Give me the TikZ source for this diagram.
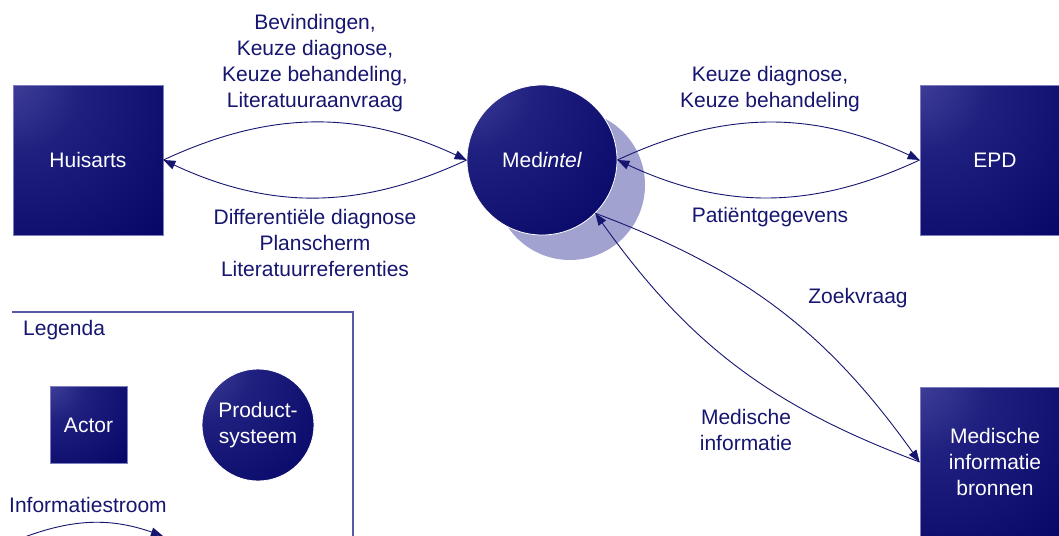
\documentclass[tikz,border=0pt]{standalone}
\usepackage{fontspec}
\setmainfont{Liberation Sans}
\usetikzlibrary{arrows.meta,calc}

\definecolor{ink}{RGB}{22,22,112}
\definecolor{navybase}{RGB}{4,4,102}
\definecolor{glowlight}{RGB}{74,74,162}
\definecolor{glowmid}{RGB}{32,32,128}
\definecolor{halo}{RGB}{162,162,208}
\definecolor{edge}{RGB}{125,125,192}
\definecolor{frame}{RGB}{88,88,168}

% soft highlight in the upper left corner of every actor and system
\pgfdeclareradialshading{glow}{\pgfpoint{-32bp}{32bp}}{%
  color(0bp)=(glowlight); color(22bp)=(glowmid);
  color(58bp)=(navybase); color(100bp)=(navybase)}

\newcommand{\txt}{\fontsize{21}{26}\selectfont}

\tikzset{
  actor/.style={rectangle, shading=glow, draw=edge, line width=0.8pt,
    minimum size=150pt, inner sep=0pt, text=white, align=center, font=\txt},
  system/.style={circle, shading=glow, draw=white, line width=0.8pt,
    minimum size=150pt, inner sep=0pt, text=white, align=center, font=\txt},
  lbl/.style={text=ink, align=center, font=\txt, inner sep=0pt},
  flow/.style={draw=ink, line width=0.9pt, -{Triangle[length=12pt,width=9pt]}}
}

\begin{document}
\begin{tikzpicture}[x=1pt,y=-1pt]
\clip (0,0) rectangle (1059,535);
\fill[white] (0,0) rectangle (1059,535);

% actors and the central system
\node[circle, fill=halo, minimum size=150pt, inner sep=0pt] (medshade) at (570,185) {};
\node[actor] (hu) at (88,160) {Huisarts};
\node[system] (med) at (542,160) {Med\textit{intel}};
\node[actor] (epd) at (995,160) {EPD};
\node[actor] (mib) at (995,462) {Medische\\informatie\\bronnen};

% information flows
\draw[flow] (hu.east) to[bend left=25] (med.west);
\draw[flow] (med.west) to[bend left=25] (hu.east);
\draw[flow] (med.east) to[bend left=25] (epd.west);
\draw[flow] (epd.west) to[bend left=25] (med.east);
\draw[flow] (med.-45) to[bend left=17] (mib.west);
\draw[flow] (mib.west) to[bend left=17] (med.-45);

% flow labels
\node[lbl] (l1) at (315,63) {Bevindingen,\\Keuze diagnose,\\Keuze behandeling,\\Literatuuraanvraag};
\node[lbl] (l2) at (315,243) {Differentiële diagnose\\Planscherm\\Literatuurreferenties};
\node[lbl] (l3) at (770,89) {Keuze diagnose,\\Keuze behandeling};
\node[lbl] (l4) at (770,217) {Patiëntgegevens};
\node[lbl] (l5) at (858,298) {Zoekvraag};
\node[lbl] (l6) at (746,430) {Medische\\informatie};

% legend
\draw[frame, line width=1.2pt] (12,312) -- (353,312) -- (353,545);
\node[lbl, anchor=west] (leg) at (23,330) {Legenda};
\node[actor, minimum size=77pt] (actor) at (88.5,425) {Actor};
\node[system, minimum size=112pt] (prod) at (258,425) {Product-\\systeem};
\node[lbl, anchor=west] (istr) at (9,505) {Informatiestroom};
\coordinate (fa) at (22,538);
\coordinate (fb) at (163,536);
\draw[flow] (fa) to[bend left=20] (fb);
\end{tikzpicture}
\end{document}
